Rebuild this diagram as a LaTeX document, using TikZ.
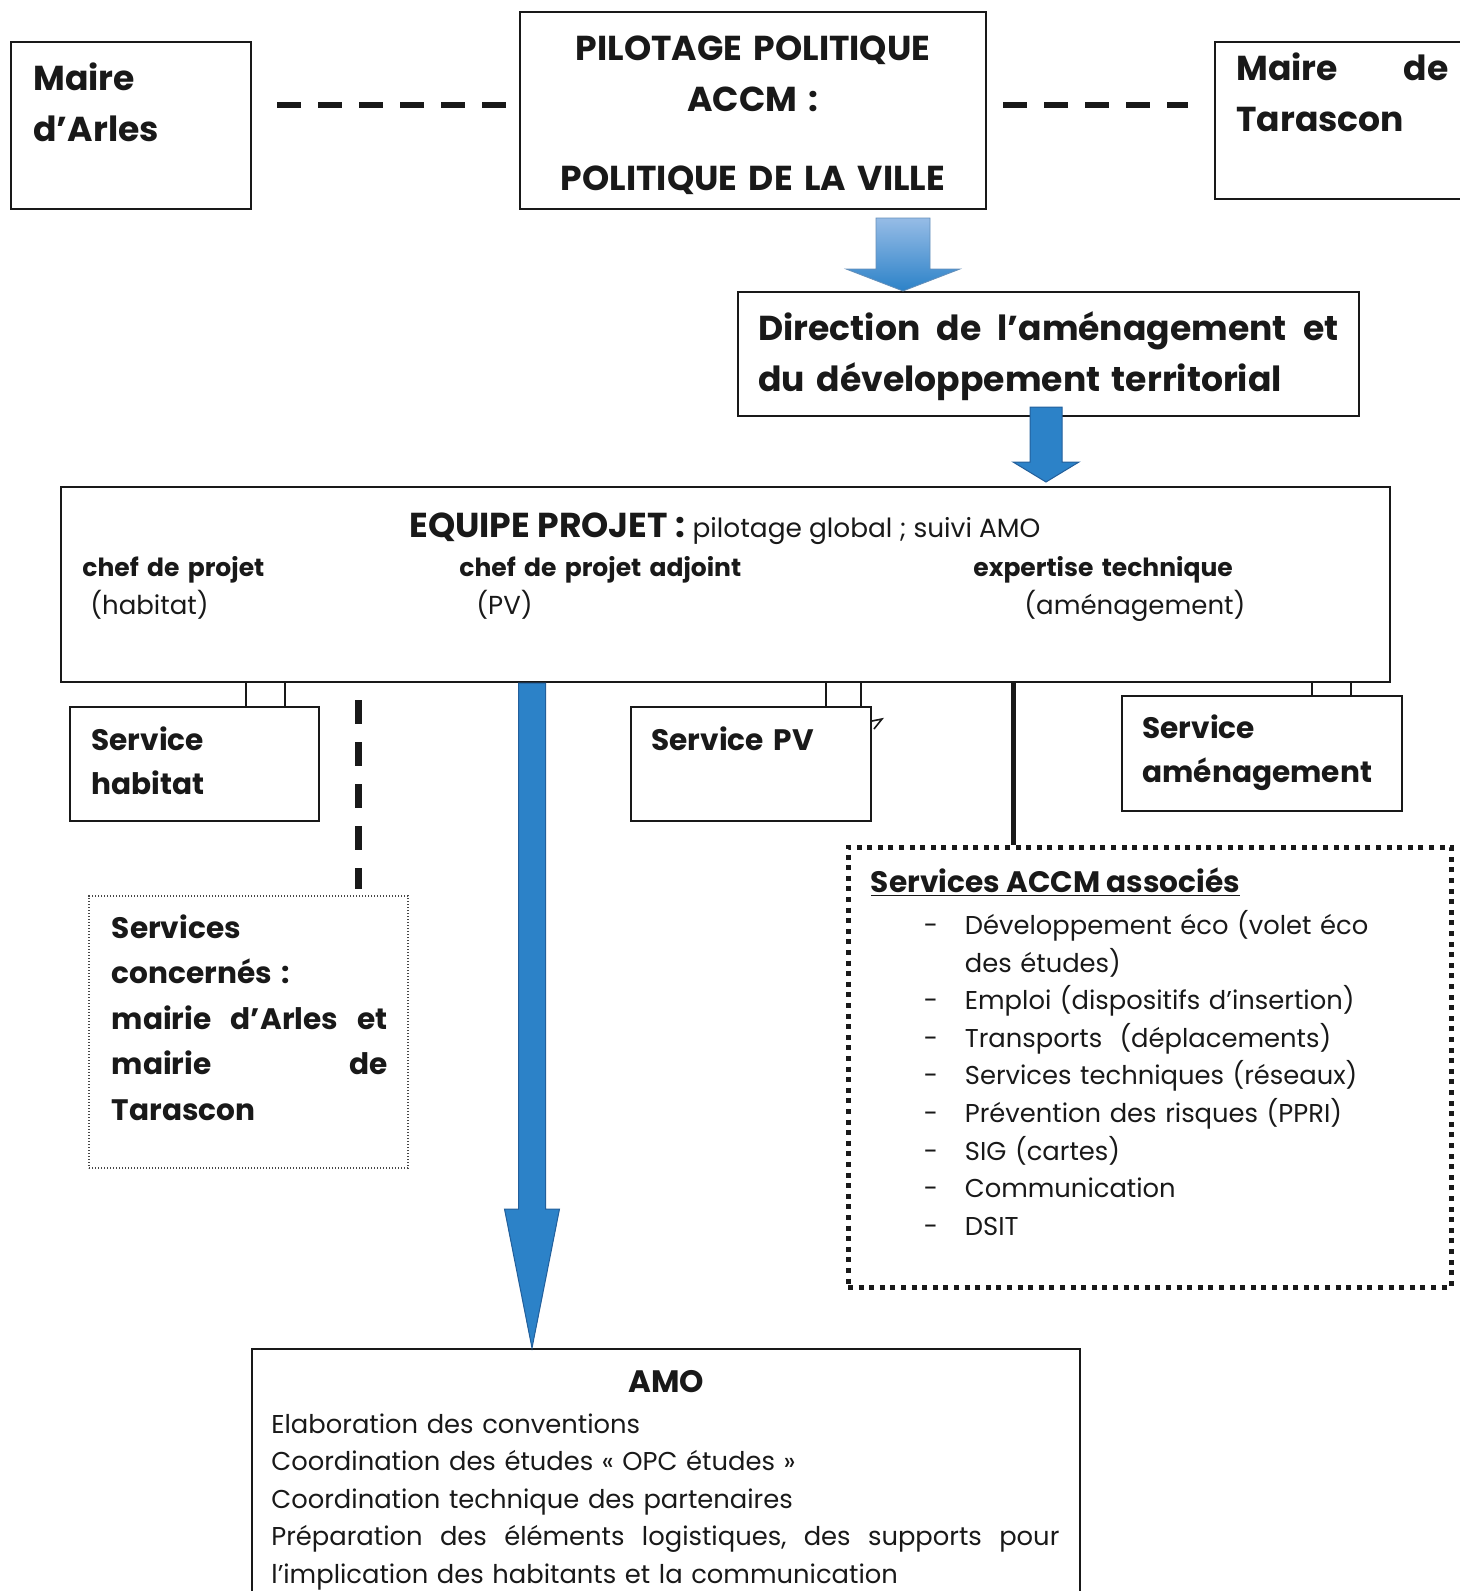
\documentclass[tikz,border=0pt]{standalone}
\usepackage{fontspec}
\setmainfont{Poppins}
\usetikzlibrary{positioning,calc,fit}

\definecolor{arrowBlue}{RGB}{44,130,200}
\definecolor{arrowLight}{RGB}{150,188,230}
\definecolor{arrowEdge}{RGB}{35,95,155}
\definecolor{inkColor}{RGB}{25,25,25}

\begin{document}
\begin{tikzpicture}[x=0.5pt,y=-0.5pt,%%
  boxStyle/.style={draw=inkColor,line width=1pt,inner sep=0pt},%%
  softBox/.style={draw=inkColor!80,line width=0.6pt,dash pattern=on 0.6pt off 0.9pt,inner sep=0pt},%%
  thickDots/.style={draw=inkColor,line width=2.5pt,dash pattern=on 2.5pt off 2.8pt,inner sep=0pt},%%
  linkLine/.style={draw=inkColor,line width=0.8pt},%%
  dashLine/.style={draw=inkColor,line width=3pt,dash pattern=on 12pt off 8.5pt},%%
  stemLine/.style={draw=inkColor,line width=2.5pt},%%
  bigBold/.style={font=\fontsize{17.3}{25.5}\selectfont\bfseries,text=inkColor,inner sep=0pt},%%
  midBold/.style={font=\fontsize{14.8}{22}\selectfont\bfseries,text=inkColor,inner sep=0pt},%%
  plainText/.style={font=\fontsize{12.9}{18.8}\selectfont,text=inkColor,inner sep=0pt},%%
  smallBold/.style={font=\fontsize{12.5}{19}\selectfont,text=inkColor,inner sep=0pt,text width=150pt,align=left},%%
  blueShaft/.style={fill=arrowBlue,draw=arrowEdge,line width=0.5pt},%%
  blueShade/.style={top color=arrowLight,bottom color=arrowBlue,draw=arrowEdge!70,line width=0.4pt}%%
]
%%
\useasboundingbox (0,0) rectangle (1460,1591);
%%
%% Top row of boxes.
\node[boxStyle,fit={(11,42) (251,209)}] (arles) {};
\node[boxStyle,fit={(520,12) (986,209)}] (pilot) {};
\node[boxStyle,fit={(1215,42) (1480,199)}] (taras) {};
\node[bigBold,anchor=base west,text width=118pt,align=left]
  (arlesTxt) at ($(arles.north west)+(23,49)$) {Maire\\d’Arles};
\node[bigBold,anchor=base,text width=230pt,align=center]
  (pilotTxt) at ($(pilot.north)+(0,49)$) {PILOTAGE POLITIQUE\\ACCM :\\[14pt]POLITIQUE DE LA VILLE};
\node[bigBold,anchor=base west,text width=106pt,align=left]
  (tarasTxt) at ($(taras.north west)+(22,39)$) {Maire\hfill de\\Tarascon};
%% Dashed links between the mayors and the steering box.
\draw[dashLine] ($(arles.north east)+(25,64)$) -- ($(pilot.north west)+(-13,94)$);
\draw[dashLine] ($(pilot.north east)+(16,94)$) -- ($(taras.north west)+(-26,64)$);
%%
%% Direction box.
\node[boxStyle,fit={(738,292) (1359,416)}] (direc) {};
\node[bigBold,anchor=base west,text width=290pt,align=left]
  (direcTxt) at ($(direc.north west)+(21,49)$)
  {Direction\hfill de\hfill l’aménagement\hfill et\\du développement territorial};
%% Arrow from the steering box.
\coordinate (a1top) at ($(pilot.south east)+(-84,8)$);
\coordinate (a1tip) at (a1top |- direc.north);
\path[blueShade] ($(a1top)+(-27,0)$) -- ($(a1top)+(27,0)$) -- ($(a1tip)+(27,-22)$)
  -- ($(a1tip)+(57,-22)$) -- (a1tip) -- ($(a1tip)+(-57,-22)$) -- ($(a1tip)+(-27,-22)$) -- cycle;
%%
%% Project team.
\node[boxStyle,fit={(61,487) (1390,682)}] (equipe) {};
\coordinate (a2top) at ($(direc.south west)+(309,-10)$);
\coordinate (a2tip) at ($(a2top |- equipe.north)+(0,-4)$);
\path[blueShaft] ($(a2top)+(-16,0)$) -- ($(a2top)+(16,0)$) -- ($(a2tip)+(16,-20)$)
  -- ($(a2tip)+(33,-20)$) -- (a2tip) -- ($(a2tip)+(-33,-20)$) -- ($(a2tip)+(-16,-20)$) -- cycle;
\node[bigBold,anchor=base west] (equipeTxt) at ($(equipe.north west)+(349,51)$)
  {EQUIPE PROJET : {\fontsize{13.2}{18}\mdseries\selectfont pilotage global ; suivi AMO}};
\node[smallBold,anchor=base west] (chefA) at ($(equipe.north west)+(22,90)$)
  {\textbf{chef de projet}\\\hspace*{4pt}{\fontsize{13}{19}\selectfont(habitat)}};
\node[smallBold,anchor=base west] (chefB) at ($(equipe.north west)+(399,90)$)
  {\textbf{chef de projet adjoint}\\\hspace*{8.5pt}{\fontsize{13}{19}\selectfont(PV)}};
\node[smallBold,anchor=base west] (chefC) at ($(equipe.north west)+(913,90)$)
  {\textbf{expertise technique}\\\hspace*{25.5pt}{\fontsize{13}{19}\selectfont(aménagement)}};
%%
%% Services under the team.
\node[boxStyle,fit={(70,707) (319,821)}] (habitat) {};
\node[boxStyle,fit={(631,707) (871,821)}] (pv) {};
\node[boxStyle,fit={(1122,696) (1402,811)}] (amen) {};
\node[midBold,anchor=base west,text width=110pt,align=left] (habitatTxt) at ($(habitat.north west)+(22,44)$) {Service\\habitat};
\node[midBold,anchor=base west,text width=110pt,align=left] (pvTxt) at ($(pv.north west)+(21,44)$) {Service PV};
\node[midBold,anchor=base west,text width=125pt,align=left] (amenTxt) at ($(amen.north west)+(21,43)$) {Service\\aménagement};
%% Double links.
\coordinate (hA) at ($(habitat.north west)+(177,0)$);
\coordinate (hB) at ($(habitat.north west)+(216,0)$);
\coordinate (pA) at ($(pv.north west)+(196,0)$);
\coordinate (pB) at ($(pv.north west)+(231,0)$);
\coordinate (mA) at ($(amen.north west)+(191,0)$);
\coordinate (mB) at ($(amen.north west)+(230,0)$);
\foreach \c in {hA,hB,pA,pB,mA,mB}
  \draw[linkLine] (\c) -- (\c |- equipe.south);
%% Small mark beside the PV box.
\draw[linkLine] ($(pv.north east)+(0,15)$) -- ($(pv.north east)+(10,13)$) -- ($(pv.north east)+(2,23)$);
%%
%% Town services.
\node[softBox,fit={(89,896) (408,1168)}] (concern) {};
\node[midBold,anchor=base west,text width=138pt,align=left,font=\fontsize{14.8}{22.7}\selectfont\bfseries]
  (concernTxt) at ($(concern.north west)+(23,43)$)
  {Services\\concernés :\\mairie\hfill d’Arles\hfill et\\mairie\hfill de\\Tarascon};
\coordinate (dTop) at ($(equipe.south west)+(298,17)$);
\draw[dashLine,line width=3.5pt,dash pattern=on 12pt off 9pt] (dTop) -- ($(dTop |- concern.north)+(0,-6)$);
%%
%% Associated ACCM services.
\node[thickDots,fit={(848,847) (1451,1287)}] (accm) {};
\coordinate (sTop) at ($(equipe.south west)+(953,0)$);
\draw[stemLine] (sTop) -- (sTop |- accm.north);
\node[midBold,anchor=base west] (accmTitle) at ($(accm.north west)+(25,48)$)
  {\underline{Services ACCM associés}};
\node[plainText,anchor=base west,text width=10pt,align=left] (accmDash) at ($(accm.north west)+(78,90)$)
  {-\\\mbox{}\\-\\-\\-\\-\\-\\-\\-};
\node[plainText,anchor=base west,text width=230pt,align=left] (accmList) at ($(accm.north west)+(119,90)$)
  {Développement éco (volet éco\\des études)\\Emploi (dispositifs d’insertion)\\Transports\ \ (déplacements)\\Services techniques (réseaux)\\Prévention des risques (PPRI)\\SIG (cartes)\\Communication\\DSIT};
%%
%% AMO.
\node[boxStyle,fit={(252,1349) (1080,1640)}] (amo) {};
\coordinate (a3top) at ($(equipe.south west)+(472,0)$);
\coordinate (a3tip) at (a3top |- amo.north);
\path[blueShaft] ($(a3top)+(-13.5,0)$) -- ($(a3top)+(13.5,0)$) -- ($(a3tip)+(13.5,-139)$)
  -- ($(a3tip)+(27.5,-139)$) -- (a3tip) -- ($(a3tip)+(-27.5,-139)$) -- ($(a3tip)+(-13.5,-139)$) -- cycle;
\node[midBold,anchor=base,font=\fontsize{15.5}{22}\selectfont\bfseries] (amoTitle) at ($(amo.north)+(0,44)$) {AMO};
\node[plainText,anchor=base west,text width=394pt,align=left] (amoTxt) at ($(amo.north west)+(20,85)$)
  {Elaboration des conventions\\Coordination des études «~OPC études~»\\Coordination technique des partenaires\\%
   Préparation\hfill des\hfill éléments\hfill logistiques,\hfill des\hfill supports\hfill pour\\l’implication des habitants et la communication};
\end{tikzpicture}
\end{document}
